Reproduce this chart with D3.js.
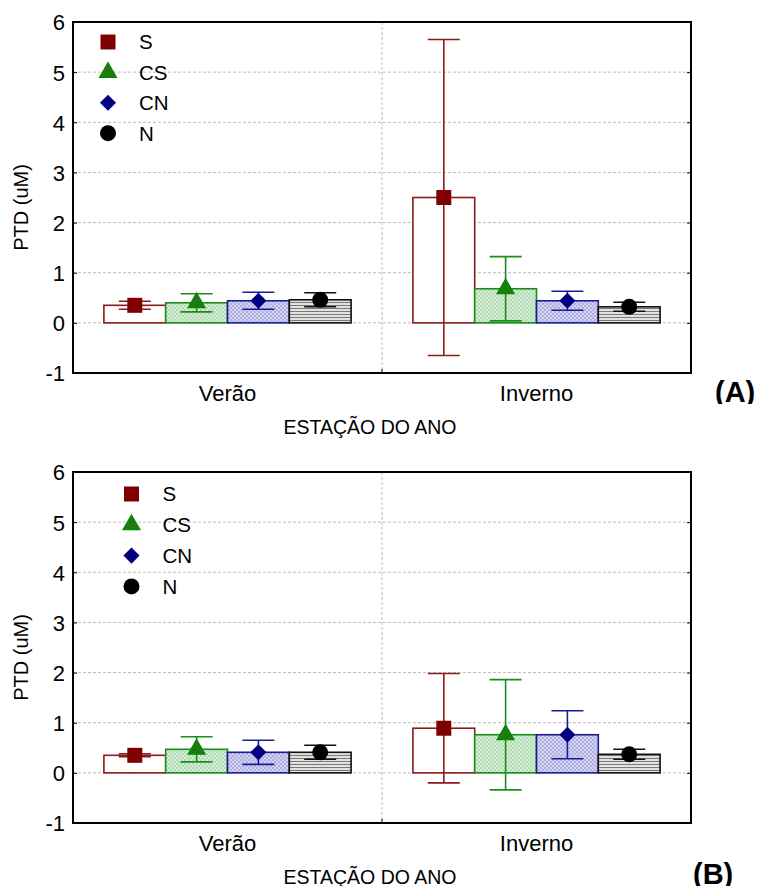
<!DOCTYPE html>
<html>
<head>
<meta charset="utf-8">
<script src="https://cdn.jsdelivr.net/npm/d3@7"></script>
<style>
body { margin: 0; background: #fff; }
text { font-family: "Liberation Sans", Arial, sans-serif; fill: #000; }
</style>
</head>
<body>
<svg width="763" height="886"></svg>
<script>
var seasons = ["Verão", "Inverno"];
var sites = ["S", "CS", "CN", "N"];
var yTicks = [-1, 0, 1, 2, 3, 4, 5, 6];
var gridTicks = [0, 1, 2, 3, 4, 5];

// rows = sites (S, CS, CN, N), columns = seasons (Verão, Inverno)
var meanA = [[0.35, 2.50], [0.40, 0.68], [0.44, 0.44], [0.46, 0.32]];
var errA  = [[0.08, 3.15], [0.18, 0.64], [0.17, 0.19], [0.14, 0.09]];
var meanB = [[0.35, 0.89], [0.47, 0.76], [0.41, 0.76], [0.41, 0.37]];
var errB  = [[0.03, 1.09], [0.25, 1.10], [0.24, 0.48], [0.14, 0.10]];

var svg = d3.select("svg");
var left = 73, width = 618, height = 351;

var stroke = {"S": "#8b1a1a", "CS": "#1b8c1b", "CN": "#1a1a96", "N": "#111"};
var markFill = {"S": "#800000", "CS": "#1f7a12", "CN": "#000080", "N": "#000"};
var barFill = {"S": "#fff", "CS": "url(#patCS)", "CN": "url(#patCN)", "N": "url(#patN)"};

// hatch patterns for the bars
var defs = svg.append("defs");
function hatch(id, bg, fg) {
  var p = defs.append("pattern").attr("id", id)
      .attr("patternUnits", "userSpaceOnUse").attr("width", 4).attr("height", 4);
  p.append("rect").attr("width", 4).attr("height", 4).attr("fill", bg);
  p.append("path").attr("d", "M0,4 L4,0 M0,0 L4,4")
      .attr("stroke", fg).attr("stroke-width", 0.8);
}
hatch("patCS", "#d8eed8", "#a6d6a6");
hatch("patCN", "#d4d4f2", "#a4a4dc");
var pn = defs.append("pattern").attr("id", "patN")
    .attr("patternUnits", "userSpaceOnUse").attr("width", 4).attr("height", 3);
pn.append("rect").attr("width", 4).attr("height", 3).attr("fill", "#e2e2e2");
pn.append("rect").attr("y", 1).attr("width", 4).attr("height", 1).attr("fill", "#7a7a7a");

defs.append("clipPath").attr("id", "clipA")
  .append("rect").attr("x", 0).attr("y", 0).attr("width", 763).attr("height", 404);

var x0 = d3.scaleBand().domain(seasons).range([0, width]);
var x1 = d3.scaleBand().domain(sites).range([0, x0.bandwidth()]).paddingOuter(0.5);
var y = d3.scaleLinear().domain([-1, 6]).range([height, 0]);

function marker(sel, site, scale) {
  var s = scale || 1;
  if (site == "S") {
    sel.append("path").attr("d", d3.symbol(d3.symbolSquare, 225 * s)());
  } else if (site == "CS") {
    sel.append("path").attr("d", d3.symbol(d3.symbolTriangle, 125 * s)())
        .attr("stroke", "#008a00").attr("stroke-width", 1.2);
  } else if (site == "CN") {
    sel.append("path").attr("d", d3.symbol(d3.symbolSquare, 130 * s)())
        .attr("transform", "rotate(45)");
  } else {
    sel.append("path").attr("d", d3.symbol(d3.symbolCircle, 201 * s)());
  }
  sel.attr("fill", markFill[site]);
}

function panel(top, means, errs, legX, legY, legStep, tag, tagX, tagY, clip) {
  var g = svg.append("g").attr("transform", "translate(" + left + "," + top + ")");

  // grid
  g.selectAll(".grid").data(gridTicks).enter().append("line")
      .attr("x1", 0).attr("x2", width)
      .attr("y1", function(d) { return y(d); }).attr("y2", function(d) { return y(d); })
      .attr("stroke", "#bcbcbc").attr("stroke-dasharray", "3,2");
  g.append("line")
      .attr("x1", x0.bandwidth()).attr("x2", x0.bandwidth())
      .attr("y1", 0).attr("y2", height)
      .attr("stroke", "#bcbcbc").attr("stroke-dasharray", "3,2");

  // axes
  var ay = g.append("g").call(d3.axisLeft(y).tickValues(yTicks).tickSize(-4).tickPadding(8)
      .tickFormat(function(d) { return String(d); }));
  ay.select(".domain").remove();
  ay.selectAll("text").style("font-size", "22px").attr("dy", "0.36em");
  var ar = g.append("g").attr("transform", "translate(" + width + ",0)")
      .call(d3.axisRight(y).tickValues(yTicks).tickSize(-4).tickFormat(""));
  ar.select(".domain").remove();
  var ax = g.append("g").attr("transform", "translate(0," + height + ")")
      .call(d3.axisBottom(x0).tickSize(0).tickPadding(12));
  ax.select(".domain").remove();
  ax.selectAll("text").style("font-size", "22px");
  g.append("line").attr("x1", x0.bandwidth()).attr("x2", x0.bandwidth())
      .attr("y1", height).attr("y2", height - 4).attr("stroke", "#000");
  g.selectAll(".tick line").attr("stroke", "#000");

  // bars
  sites.forEach(function(site, i) {
    seasons.forEach(function(season, j) {
      var m = means[i][j];
      g.append("rect")
          .attr("x", x0(season) + x1(site)).attr("width", x1.bandwidth())
          .attr("y", y(m)).attr("height", y(0) - y(m))
          .attr("fill", barFill[site]).attr("stroke", stroke[site]).attr("stroke-width", 1.6);
    });
  });
  // error bars and markers
  sites.forEach(function(site, i) {
    seasons.forEach(function(season, j) {
      var m = means[i][j], e = errs[i][j];
      var cx = x0(season) + x1(site) + x1.bandwidth() / 2;
      var eb = g.append("g").attr("stroke", stroke[site]).attr("stroke-width", 1.6);
      eb.append("line").attr("x1", cx).attr("x2", cx).attr("y1", y(m + e)).attr("y2", y(m - e));
      eb.append("line").attr("x1", cx - 16).attr("x2", cx + 16).attr("y1", y(m + e)).attr("y2", y(m + e));
      eb.append("line").attr("x1", cx - 16).attr("x2", cx + 16).attr("y1", y(m - e)).attr("y2", y(m - e));
      g.append("g").attr("transform", "translate(" + cx + "," + y(m) + ")").call(marker, site);
    });
  });

  // frame
  g.append("rect").attr("width", width).attr("height", height)
      .attr("fill", "none").attr("stroke", "#000").attr("stroke-width", 2);

  // legend
  sites.forEach(function(site, i) {
    var ly = legY + i * legStep;
    svg.append("g").attr("transform", "translate(" + legX + "," + (top + ly) + ")").call(marker, site);
    svg.append("text").attr("x", legX + 31).attr("y", top + ly).attr("dy", "0.36em")
        .style("font-size", "20.5px").text(site);
  });

  // axis titles
  svg.append("text")
      .attr("transform", "translate(28," + (top + height / 2 + 10) + ") rotate(-90)")
      .attr("text-anchor", "middle").style("font-size", "20px").text("PTD (uM)");
  svg.append("text").attr("x", 370).attr("y", top + height + 61)
      .attr("text-anchor", "middle").style("font-size", "19.5px").text("ESTAÇÃO DO ANO");

  var t = svg.append("text").attr("x", tagX).attr("y", tagY)
      .style("font-size", "29px").style("font-weight", "bold").text(tag);
  if (clip) t.attr("clip-path", "url(#" + clip + ")");
}

panel(22, meanA, errA, 108, 20, 30.4, "(A)", 715, 402, "clipA");
panel(472, meanB, errB, 131.5, 22, 30.8, "(B)", 693, 884, null);
</script>
</body>
</html>
